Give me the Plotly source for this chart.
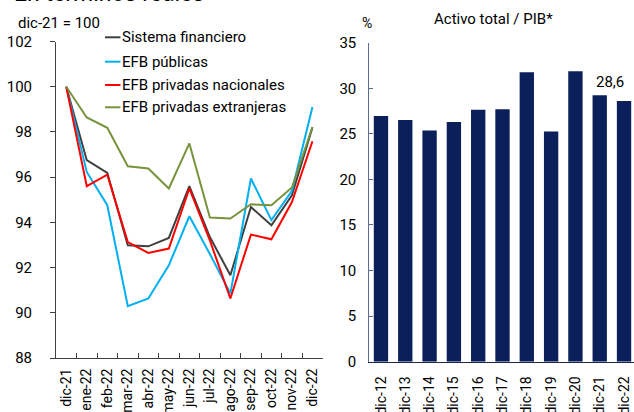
import plotly.graph_objects as go

W, H = 634, 412
OFF = 0  # page body margin removed via post_script

# ---------- data ----------
months = ["dic-21", "ene-22", "feb-22", "mar-22", "abr-22", "may-22", "jun-22",
          "jul-22", "ago-22", "sep-22", "oct-22", "nov-22", "dic-22"]
sistema = [100, 96.75, 96.19, 92.99, 92.94, 93.31, 95.60, 93.35, 91.66, 94.68, 93.87, 95.20, 98.20]
publicas = [100, 96.23, 94.76, 90.29, 90.63, 92.10, 94.27, 92.60, 90.85, 95.94, 94.10, 95.40, 99.10]
nacionales = [100, 95.60, 96.11, 93.13, 92.65, 92.84, 95.50, 93.20, 90.63, 93.46, 93.25, 94.90, 97.59]
extranjeras = [100, 98.64, 98.18, 96.48, 96.38, 95.50, 97.49, 94.21, 94.17, 94.80, 94.76, 95.54, 98.22]

years = ["dic-12", "dic-13", "dic-14", "dic-15", "dic-16", "dic-17", "dic-18",
         "dic-19", "dic-20", "dic-21", "dic-22"]
activo_pib = [26.97, 26.53, 25.36, 26.31, 27.63, 27.70, 31.77, 25.25, 31.88, 29.24, 28.6]

series_names = ["Sistema financiero", "EFB públicas", "EFB privadas nacionales", "EFB privadas extranjeras"]
series_vals = [sistema, publicas, nacionales, extranjeras]
series_colors = ["#404040", "#00b0f0", "#ff0000", "#77933c"]

FONT = "Roboto"

def px(x):
    return (x - OFF) / W

def py(y):
    return 1 - (y - OFF) / H

fig = go.Figure()

for name, vals, col in zip(series_names, series_vals, series_colors):
    fig.add_trace(go.Scatter(x=months, y=vals, name=name, mode="lines",
                             line=dict(color=col, width=2),
                             xaxis="x", yaxis="y", showlegend=False))

fig.add_trace(go.Bar(x=years, y=activo_pib, marker=dict(color="#0b1f5a", line=dict(width=0)),
                     width=0.59, xaxis="x2", yaxis="y2", showlegend=False))

axis_common = dict(showgrid=False, zeroline=False, automargin=False)

fig.update_layout(
    width=W, height=H,
    margin=dict(l=0, r=0, t=0, b=0),
    paper_bgcolor="white", plot_bgcolor="white",
    font=dict(family=FONT, color="#000000", size=14),
    xaxis=dict(axis_common, type="category", categoryorder="array", categoryarray=months,
               domain=[px(56), px(322.7)], range=[-0.5, 12.5], anchor="y",
               showline=True, linecolor="#404040", linewidth=1,
               ticks="inside", tickson="boundaries", ticklen=5, tickcolor="#404040",
               tickangle=-90, tickfont=dict(size=14), ticklabelstandoff=4),
    yaxis=dict(axis_common, domain=[py(358), py(41.5)], range=[88, 102], dtick=2, anchor="x",
               showline=True, linecolor="#404040", linewidth=1,
               ticks="outside", ticklen=5, tickcolor="#404040",
               tickfont=dict(size=15), ticklabelstandoff=15),
    xaxis2=dict(axis_common, type="category", categoryorder="array", categoryarray=years,
                domain=[px(369.3), 1.0], range=[-0.48, 10.41], anchor="y2",
                showline=True, linecolor="#1a2550", linewidth=1, ticks="",
                tickangle=-90, tickfont=dict(size=14), ticklabelstandoff=8),
    yaxis2=dict(axis_common, domain=[py(361.7), py(42.7)], range=[0, 35], dtick=5, anchor="x2",
                showline=True, linecolor="#5b6b9b", linewidth=1,
                ticks="inside", ticklen=4, tickcolor="#5b6b9b",
                tickfont=dict(size=15), ticklabelstandoff=9),
)

annotations = [
    dict(text="En términos reales", x=px(12), y=py(9), xref="paper", yref="paper",
         xanchor="left", yanchor="bottom", showarrow=False, font=dict(size=23, color="#000")),
    dict(text="dic-21 = 100", x=px(16), y=py(23), xref="paper", yref="paper",
         xanchor="left", yanchor="middle", showarrow=False, font=dict(size=15)),
    dict(text="%", x=px(366.7), y=py(23), xref="paper", yref="paper",
         xanchor="center", yanchor="middle", showarrow=False, font=dict(size=14)),
    dict(text="Activo total / PIB*", x=px(493.5), y=py(19), xref="paper", yref="paper",
         xanchor="center", yanchor="middle", showarrow=False, font=dict(size=15)),
    dict(text="28,6", x=years[-1], y=activo_pib[-1], xref="x2", yref="y2",
         xanchor="center", yanchor="bottom", xshift=-14, yshift=8, showarrow=False,
         font=dict(size=15)),
]

shapes = []
legend_y = [37.3, 61.7, 85, 107.3]
for name, col, yy in zip(series_names, series_colors, legend_y):
    shapes.append(dict(type="line", xref="paper", yref="paper",
                       x0=px(105), x1=px(120.5), y0=py(yy), y1=py(yy),
                       line=dict(color=col, width=2)))
    annotations.append(dict(text=name, x=px(120), y=py(yy), xref="paper", yref="paper",
                            xanchor="left", yanchor="middle", showarrow=False,
                            font=dict(size=15)))

fig.update_layout(annotations=annotations, shapes=shapes)

fig.write_html("out.html",
               config={"displayModeBar": False, "staticPlot": True},
               post_script="document.body.style.margin='0';document.body.style.overflow='hidden';")
